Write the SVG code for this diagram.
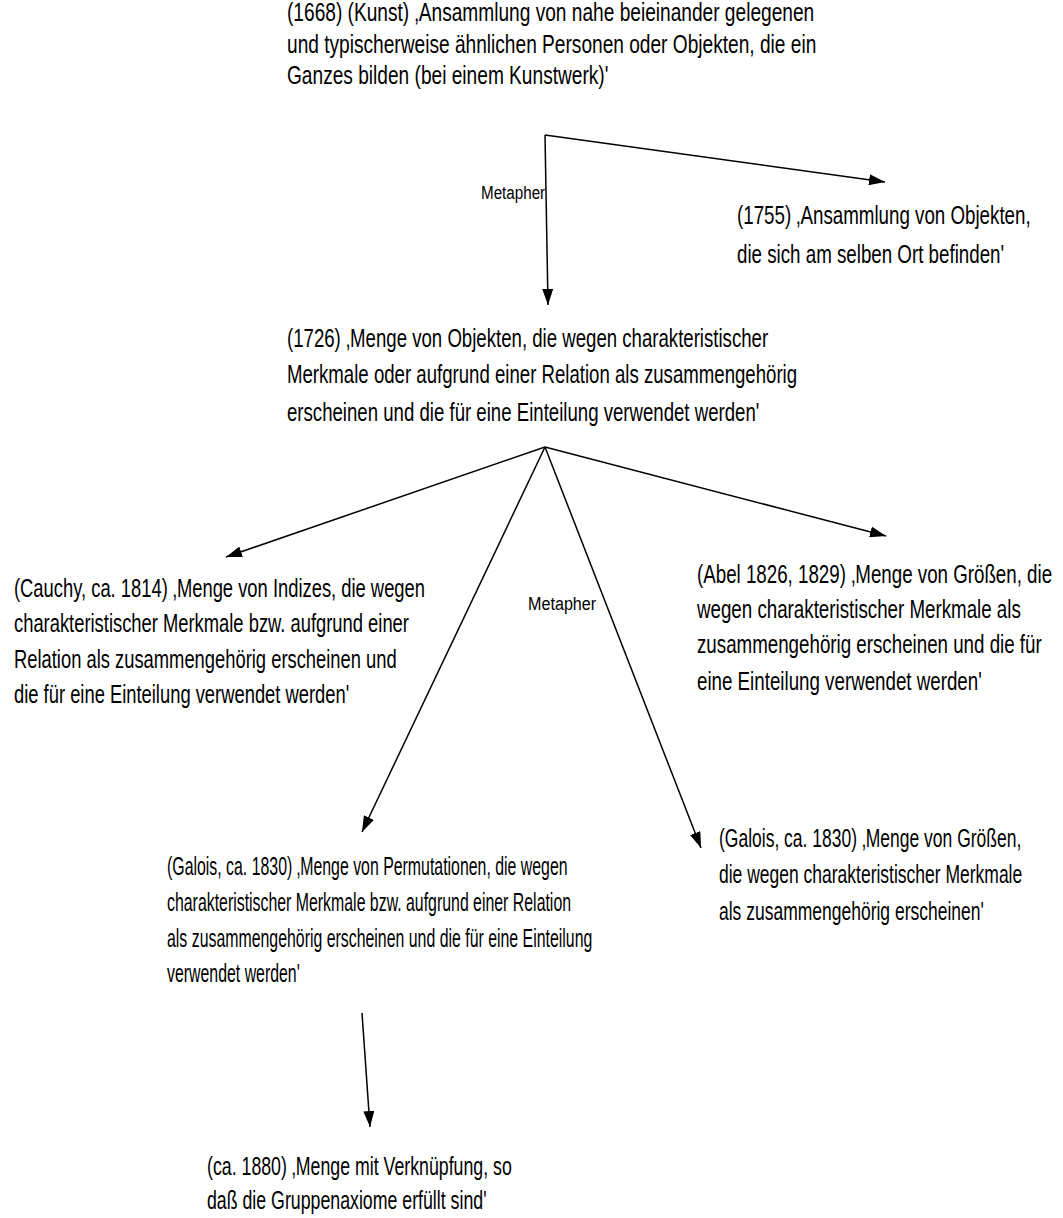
<svg xmlns="http://www.w3.org/2000/svg" width="1063" height="1218" viewBox="0 0 1063 1218">
<style>
  text { font-family: "Liberation Sans", Arial, sans-serif; font-size: 25px; fill: #000; }
  .lbl { font-size: 19px; }
  .conn line { stroke: #000; stroke-width: 1.5; fill: none; marker-end: url(#ah); }
</style>
<defs>
  <marker id="ah" viewBox="0 0 16 11" refX="16" refY="5.5" markerWidth="16" markerHeight="11" markerUnits="userSpaceOnUse" orient="auto">
    <path d="M0,0 L16,5.5 L0,11 z" fill="#000"/>
  </marker>
</defs>
<rect width="1063" height="1218" fill="#fff"/>

<g id="connectors" class="conn">
  <line x1="545" y1="135" x2="548" y2="305"/>
  <line x1="545" y1="135" x2="885" y2="182"/>
  <line x1="545" y1="447" x2="226" y2="557"/>
  <line x1="545" y1="447" x2="362" y2="832"/>
  <line x1="545" y1="447" x2="701" y2="848"/>
  <line x1="545" y1="447" x2="886" y2="536"/>
  <line x1="362" y1="1013" x2="370" y2="1127"/>
  <g transform="translate(481,0) scale(0.8,1)"><text class="lbl" x="0" y="199">Metapher</text></g>
  <g transform="translate(528,0) scale(0.85,1)"><text class="lbl" x="0" y="610">Metapher</text></g>
</g>

<g id="n1668" transform="translate(287,0) scale(0.765,1)">
  <text x="0" y="21">(1668) (Kunst) ‚Ansammlung von nahe beieinander gelegenen</text>
  <text x="0" y="53">und typischerweise ähnlichen Personen oder Objekten, die ein</text>
  <text x="0" y="84">Ganzes bilden (bei einem Kunstwerk)'</text>
</g>

<g id="n1755" transform="translate(737,0) scale(0.75,1)">
  <text x="0" y="224">(1755) ‚Ansammlung von Objekten,</text>
  <text x="0" y="263">die sich am selben Ort befinden'</text>
</g>

<g id="n1726" transform="translate(287,0) scale(0.745,1)">
  <text x="0" y="347">(1726) ‚Menge von Objekten, die wegen charakteristischer</text>
  <text x="0" y="383">Merkmale oder aufgrund einer Relation als zusammengehörig</text>
  <text x="0" y="421">erscheinen und die für eine Einteilung verwendet werden'</text>
</g>

<g id="nCauchy" transform="translate(14,0) scale(0.735,1)">
  <text x="0" y="597">(Cauchy, ca. 1814) ‚Menge von Indizes, die wegen</text>
  <text x="0" y="632">charakteristischer Merkmale bzw. aufgrund einer</text>
  <text x="0" y="668">Relation als zusammengehörig erscheinen und</text>
  <text x="0" y="703">die für eine Einteilung verwendet werden'</text>
</g>

<g id="nAbel" transform="translate(697,0) scale(0.75,1)">
  <text x="0" y="583">(Abel 1826, 1829) ‚Menge von Größen, die</text>
  <text x="0" y="618">wegen charakteristischer Merkmale als</text>
  <text x="0" y="653">zusammengehörig erscheinen und die für</text>
  <text x="0" y="690">eine Einteilung verwendet werden'</text>
</g>

<g id="nGaloisPerm" transform="translate(167,0) scale(0.635,1)">
  <text x="0" y="875">(Galois, ca. 1830) ‚Menge von Permutationen, die wegen</text>
  <text x="0" y="911">charakteristischer Merkmale bzw. aufgrund einer Relation</text>
  <text x="0" y="947">als zusammengehörig erscheinen und die für eine Einteilung</text>
  <text x="0" y="982">verwendet werden'</text>
</g>

<g id="nGaloisGr" transform="translate(719,0) scale(0.70,1)">
  <text x="0" y="847">(Galois, ca. 1830) ‚Menge von Größen,</text>
  <text x="0" y="883">die wegen charakteristischer Merkmale</text>
  <text x="0" y="920">als zusammengehörig erscheinen'</text>
</g>

<g id="n1880" transform="translate(207,0) scale(0.71,1)">
  <text x="0" y="1175">(ca. 1880) ‚Menge mit Verknüpfung, so</text>
  <text x="0" y="1209">daß die Gruppenaxiome erfüllt sind'</text>
</g>
</svg>
